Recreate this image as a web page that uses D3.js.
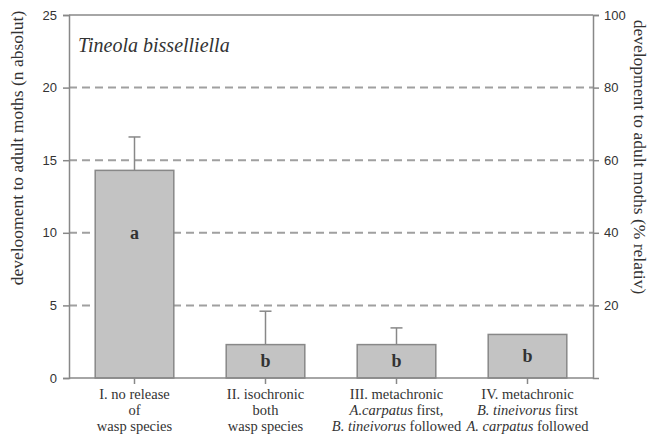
<!DOCTYPE html>
<html lang="en">
<head>
<meta charset="UTF-8">
<title>Tineola bisselliella</title>
<script src="https://cdn.jsdelivr.net/npm/d3@7"></script>
<style>
  body { margin: 0; background: #fff; }
  text { fill: #333; }
</style>
</head>
<body>
<svg width="649" height="438"></svg>
<script>
    // treatments (x labels, one array per line; italic parts marked with *)
    var groups = ["I", "II", "III", "IV"];
    var labelLines = [
        ["I. no release", "of", "wasp species"],
        ["II. isochronic", "both", "wasp species"],
        ["III. metachronic", "*A.carpatus* first,", "*B. tineivorus* followed"],
        ["IV. metachronic", "*B. tineivorus* first", "*A. carpatus* followed"]
    ];
    var means = [14.3, 2.3, 2.3, 3.0];
    var errTop = [16.6, 4.6, 3.45, null];
    var letters = ["a", "b", "b", "b"];
    var leftTicks = [0, 5, 10, 15, 20, 25];
    var rightTicks = [20, 40, 60, 80, 100];
    var gridValues = [5, 10, 15, 20];

    var svg = d3.select("svg");
    // note: "top" is reserved on window, so plot edges get a prefix
    var plotLeft = 69, plotRight = 593, plotTop = 15, plotBottom = 378;
    var grey = "#888";

    var x = d3.scaleBand().domain(groups).range([plotLeft, plotRight])
        .paddingInner(0.4).paddingOuter(0.2);
    var y = d3.scaleLinear().domain([0, 25]).range([plotBottom, plotTop]);
    var yPct = d3.scaleLinear().domain([0, 100]).range([plotBottom, plotTop]);
    var cx = function(i) { return x(groups[i]) + x.bandwidth() / 2; };

    // dashed gridlines
    svg.selectAll(".grid").data(gridValues).join("line")
        .attr("x1", plotLeft).attr("x2", plotRight)
        .attr("y1", d => y(d)).attr("y2", d => y(d))
        .attr("stroke", "#a0a0a0").attr("stroke-width", 2)
        .attr("stroke-dasharray", "8,5");

    // bars
    svg.selectAll(".bar").data(means).join("rect")
        .attr("x", (d, i) => x(groups[i]))
        .attr("width", x.bandwidth())
        .attr("y", d => y(d))
        .attr("height", d => y(0) - y(d))
        .attr("fill", "#c3c3c3").attr("stroke", grey).attr("stroke-width", 1.5);

    // error bars (upper only)
    var errData = errTop.map((e, i) => ({e: e, i: i})).filter(d => d.e != null);
    var eb = svg.selectAll(".err").data(errData).join("g");
    eb.append("line")
        .attr("x1", d => cx(d.i)).attr("x2", d => cx(d.i))
        .attr("y1", d => y(means[d.i])).attr("y2", d => y(d.e))
        .attr("stroke", grey).attr("stroke-width", 1.5);
    eb.append("line")
        .attr("x1", d => cx(d.i) - 6).attr("x2", d => cx(d.i) + 6)
        .attr("y1", d => y(d.e)).attr("y2", d => y(d.e))
        .attr("stroke", grey).attr("stroke-width", 1.5);

    // significance letters
    svg.selectAll(".letter").data(letters).join("text")
        .attr("x", (d, i) => cx(i))
        .attr("y", (d, i) => means[i] > 10 ? y(10) : y(means[i] / 2))
        .attr("dy", "0.32em")
        .attr("text-anchor", "middle")
        .attr("font-family", "Liberation Serif, serif")
        .attr("font-weight", "bold").attr("font-size", 18)
        .text(d => d);

    // frame: top line
    svg.append("line").attr("x1", plotLeft).attr("x2", plotRight)
        .attr("y1", plotTop).attr("y2", plotTop)
        .attr("stroke", grey).attr("stroke-width", 1.5);

    // axes
    function styleAxis(g) {
        g.selectAll("path, line").attr("stroke", grey).attr("stroke-width", 1.5);
        g.selectAll("text").attr("font-family", "Liberation Sans, Arial, sans-serif")
            .attr("font-size", 13).attr("fill", "#444");
    }
    svg.append("g").attr("transform", "translate(" + plotLeft + ",0)")
        .call(d3.axisLeft(y).tickValues(leftTicks).tickSizeOuter(0).tickSize(6).tickPadding(6))
        .call(styleAxis);
    svg.append("g").attr("transform", "translate(" + plotRight + ",0)")
        .call(d3.axisRight(yPct).tickValues(rightTicks).tickSizeOuter(0).tickSize(6).tickPadding(5))
        .call(styleAxis);
    var xa = svg.append("g").attr("transform", "translate(0," + plotBottom + ")")
        .call(d3.axisBottom(x).tickSize(6).tickSizeOuter(0).tickFormat(""))
        .call(styleAxis);
    xa.select(".domain").attr("d", "M" + plotLeft + ",0H" + plotRight);

    // category labels
    labelLines.forEach(function(lines, i) {
        var t = svg.append("text")
            .attr("x", cx(i))
            .attr("y", 399)
            .attr("text-anchor", "middle")
            .attr("font-family", "Liberation Serif, serif")
            .attr("font-size", 14.5);
        lines.forEach(function(line, j) {
            var parts = line.split("*");
            var first = true;
            parts.forEach(function(p, k) {
                if (!p) return;
                var ts = t.append("tspan").text(p)
                    .attr("font-style", k % 2 ? "italic" : "normal");
                if (first) {
                    ts.attr("x", cx(i)).attr("dy", j === 0 ? 0 : 16);
                    first = false;
                }
            });
        });
    });

    // species title
    svg.append("text").attr("x", 78).attr("y", 52)
        .attr("font-family", "Liberation Serif, serif")
        .attr("font-style", "italic").attr("font-size", 20)
        .text("Tineola bisselliella");

    // axis titles
    svg.append("text")
        .attr("transform", "translate(23,148) rotate(-90)")
        .attr("text-anchor", "middle")
        .attr("font-family", "Liberation Serif, serif").attr("font-size", 17.5)
        .text("develooment to adult moths (n absolut)");
    svg.append("text")
        .attr("transform", "translate(634,157) rotate(90)")
        .attr("text-anchor", "middle")
        .attr("font-family", "Liberation Serif, serif").attr("font-size", 17.5)
        .text("development to adult moths (% relativ)");
</script>
</body>
</html>
